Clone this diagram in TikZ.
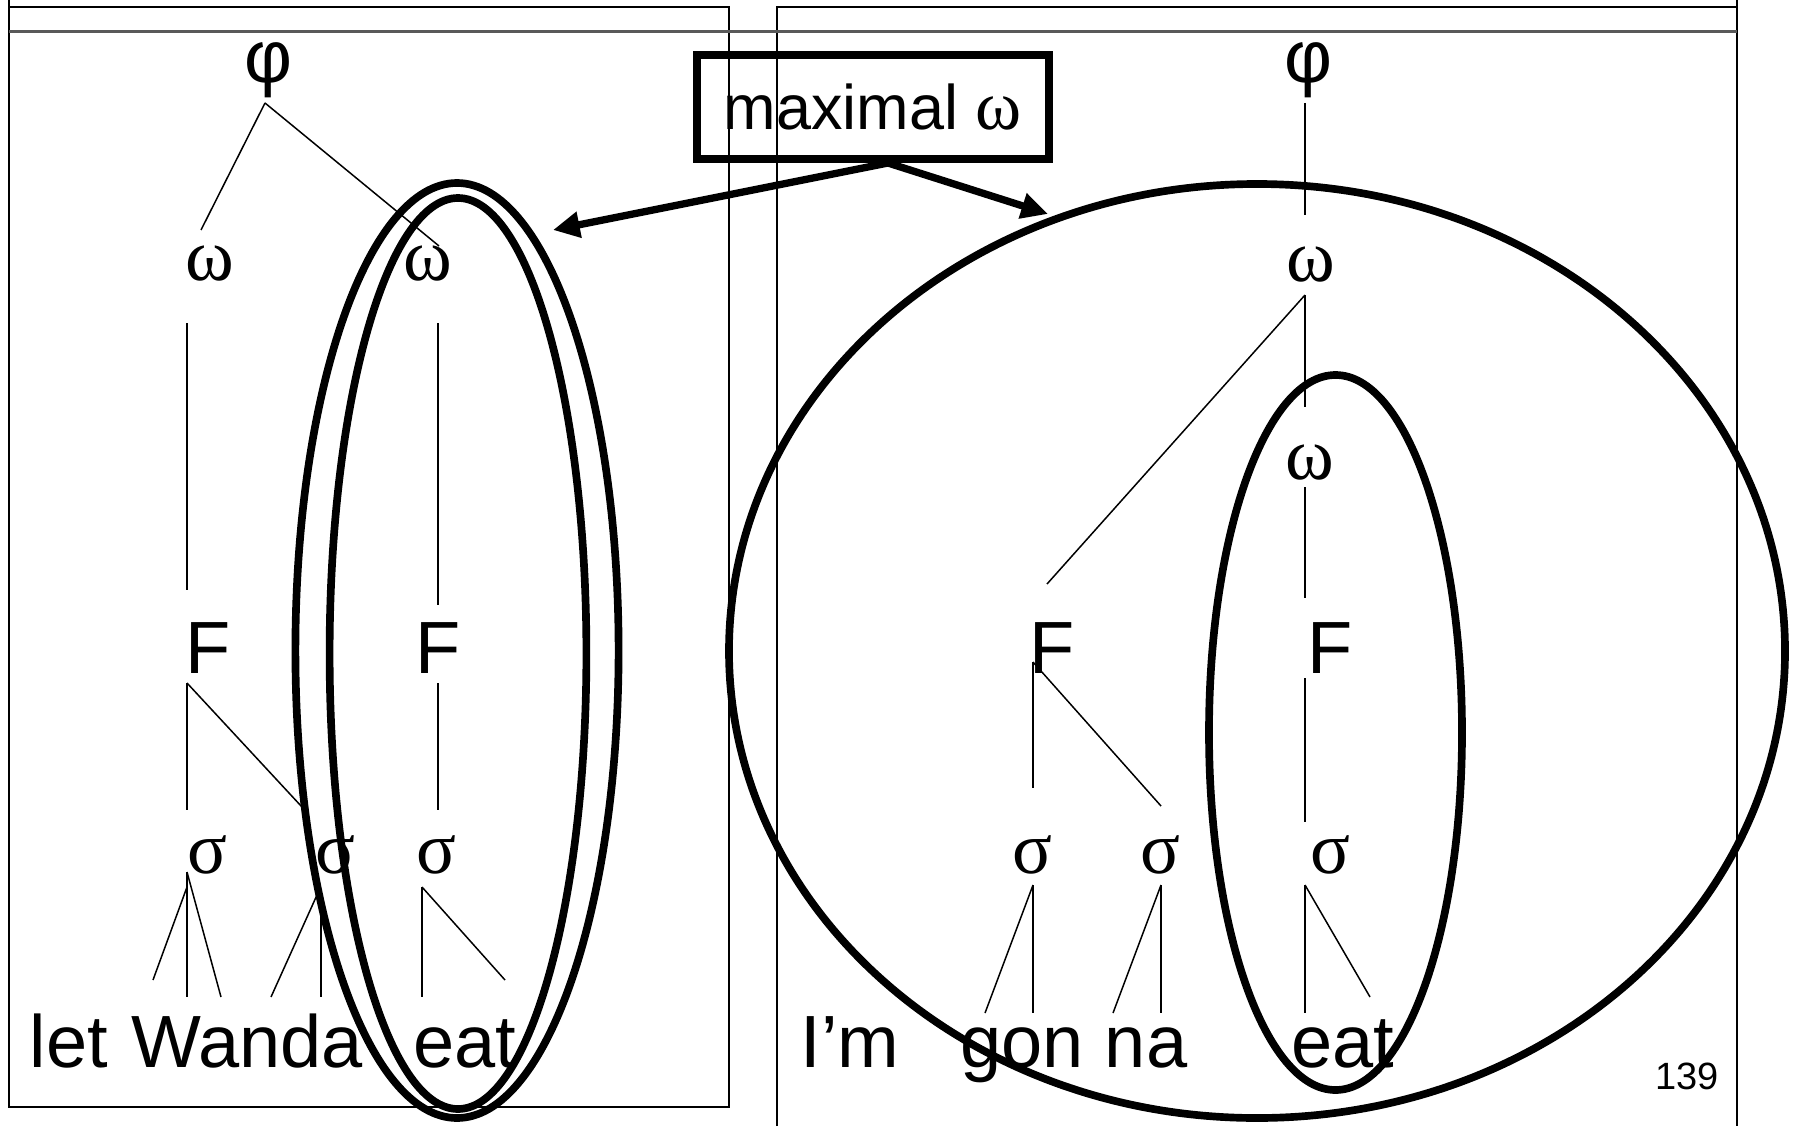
\documentclass[tikz,border=0pt]{standalone}
\usepackage{fontspec}
\setmainfont{Liberation Sans}
\newfontfamily\grkfont{Liberation Serif}
\usetikzlibrary{arrows.meta, calc}

\begin{document}
\begin{tikzpicture}[x=0.3pt, y=-0.3pt,
  lbl/.style={inner sep=0pt, font=\fontsize{22.2}{26}\selectfont},
  grk/.style={inner sep=0pt, font=\fontsize{22.2}{26}\selectfont\grkfont},
  branch/.style={line width=0.45pt},
  panel/.style={line width=0.6pt},
  ring/.style={line width=2.3pt},
  pointer/.style={line width=2.2pt, -{Triangle[length=8pt, width=7.5pt]}}]
  \useasboundingbox (0,0) rectangle (1796,1126);
  % slide frames
  \draw[panel] (8.6,0) -- (8.6,1107) -- (729,1107) -- (729,6.7) -- (8.6,6.7);
  \draw[panel] (777,1126) -- (777,6.7) -- (1737,6.7);
  \draw[panel] (1737,0) -- (1737,1126);
  \draw[line width=0.9pt, black!65] (8.6,32) -- (1737,32);
  % nodes
  \foreach \n/\x in {phiL/268, phiR/1308}
    \node[lbl] (\n) at (\x,70) {φ};
  \foreach \n/\x/\y in {omL1/210/264, omL2/428/264, omR1/1311/265, omR2/1310/463}
    \node[grk] (\n) at (\x,\y) {ω};
  \foreach \n/\x in {FL1/208, FL2/438, FR1/1052, FR2/1330}
    \node[lbl] (\n) at (\x,648) {F};
  \foreach \n/\x in {sigL1/207, sigL2/335, sigL3/436, sigR1/1032, sigR2/1160, sigR3/1330}
    \node[grk] (\n) at (\x,855) {σ};
  \foreach \n/\x/\t in {let/69/let, Wanda/247/Wanda, eatL/465/eat, Im/850/I’m, gon/1022/gon, na/1146/na, eatR/1343/eat}
    \node[lbl, anchor=base] (\n) at (\x,1067) {\t};
  \node[anchor=base, inner sep=0pt, font=\fontsize{11.4}{13}\selectfont] (pnum) at (1687,1089) {139};
  \node[draw, line width=2.4pt, inner sep=0pt, minimum width=105.6pt, minimum height=31.2pt,
    font=\fontsize{18.9}{22}\selectfont] (maxbox) at (873,107) {maximal {\fontsize{21}{24}\selectfont\grkfont ω}};
  % left tree
  \draw[branch] ($(phiL)+(-3,33)$) -- ($(omL1)+(-9,-34)$);
  \draw[branch] ($(phiL)+(-3,33)$) -- ($(omL2)+(11,-18)$);
  \draw[branch] ($(omL1)+(-23,59)$) -- ($(FL1)+(-21,-58)$);
  \draw[branch] ($(omL2)+(10,59)$) -- ($(FL2)+(0,-43)$);
  \draw[branch] ($(FL1)+(-21,35)$) -- ($(sigL1)+(-20,-45)$);
  \draw[branch] ($(FL1)+(-21,35)$) -- ($(sigL2)+(-33,-48)$);
  \draw[branch] ($(FL2)+(0,35)$) -- ($(sigL3)+(2,-45)$);
  \draw[branch] ($(sigL1)+(-20,32)$) -- ($(let.base)+(84,-87)$);
  \draw[branch] ($(sigL1)+(-20,17)$) -- ($(Wanda.base)+(-60,-70)$);
  \draw[branch] ($(sigL1)+(-20,17)$) -- ($(Wanda.base)+(-26,-70)$);
  \draw[branch] ($(sigL2)+(-18,40)$) -- ($(Wanda.base)+(24,-70)$);
  \draw[branch] ($(sigL2)+(-14,40)$) -- ($(Wanda.base)+(74,-70)$);
  \draw[branch] ($(sigL3)+(-14,32)$) -- ($(eatL.base)+(-43,-70)$);
  \draw[branch] ($(sigL3)+(-14,32)$) -- ($(eatL.base)+(40,-87)$);
  % right tree
  \draw[branch] ($(phiR)+(-3,33)$) -- ($(omR1)+(-6,-50)$);
  \draw[branch] ($(omR1)+(-6,30)$) -- ($(FR1)+(-5,-64)$);
  \draw[branch] ($(omR1)+(-6,30)$) -- ($(omR2)+(-5,-56)$);
  \draw[branch] ($(omR2)+(-5,24)$) -- ($(FR2)+(-25,-50)$);
  \draw[branch] ($(FR1)+(-19,14)$) -- ($(sigR1)+(1,-67)$);
  \draw[branch] ($(FR1)+(-19,14)$) -- ($(sigR2)+(1,-49)$);
  \draw[branch] ($(FR2)+(-25,30)$) -- ($(sigR3)+(-25,-33)$);
  \draw[branch] ($(sigR1)+(1,30)$) -- ($(gon.base)+(11,-54)$);
  \draw[branch] ($(sigR1)+(1,30)$) -- ($(gon.base)+(-37,-54)$);
  \draw[branch] ($(sigR2)+(1,30)$) -- ($(na.base)+(15,-54)$);
  \draw[branch] ($(sigR2)+(1,30)$) -- ($(na.base)+(-33,-54)$);
  \draw[branch] ($(sigR3)+(-25,30)$) -- ($(eatR.base)+(-38,-54)$);
  \draw[branch] ($(sigR3)+(-25,30)$) -- ($(eatR.base)+(27,-70)$);
  % rings
  \draw[ring] (457,650.5) ellipse [x radius=161.6, y radius=467.5];
  \draw[ring] (458,653.5) ellipse [x radius=128.4, y radius=455.5];
  \draw[ring] (1257,651) ellipse [x radius=528, y radius=467];
  \draw[ring] (1335.5,732.5) ellipse [x radius=126.5, y radius=357.5];
  % pointers
  \coordinate (tipL) at (553,230);
  \coordinate (tipR) at (1048,214);
  \draw[pointer] ($(maxbox.south)+(15,0)$) -- (tipL);
  \draw[pointer] ($(maxbox.south)+(15,0)$) -- (tipR);
\end{tikzpicture}
\end{document}
